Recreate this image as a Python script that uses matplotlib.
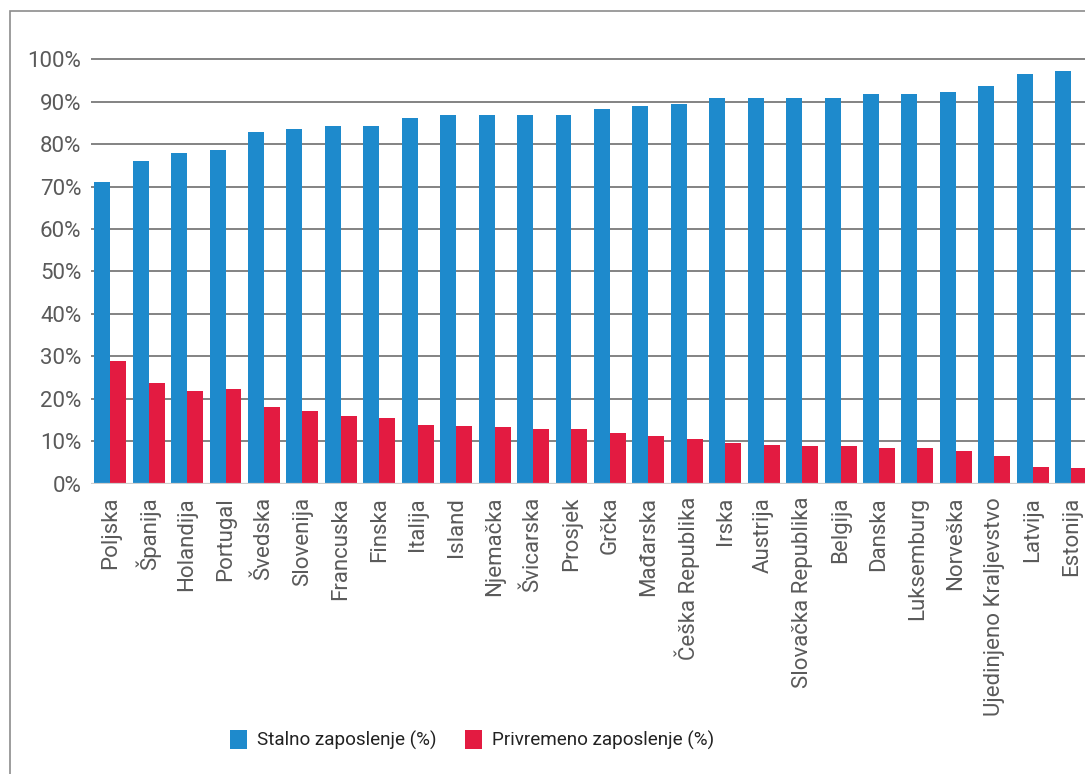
import matplotlib
matplotlib.use("Agg")
import matplotlib.pyplot as plt
from matplotlib.patches import Rectangle, Patch
import numpy as np

countries = ["Poljska", "Španija", "Holandija", "Portugal", "Švedska", "Slovenija",
             "Francuska", "Finska", "Italija", "Island", "Njemačka", "Švicarska",
             "Prosjek", "Grčka", "Mađarska", "Češka Republika", "Irska", "Austrija",
             "Slovačka Republika", "Belgija", "Danska", "Luksemburg", "Norveška",
             "Ujedinjeno Kraljevstvo", "Latvija", "Estonija"]
permanent = [71.1, 76.0, 77.9, 78.6, 82.8, 83.5, 84.2, 84.2, 86.2, 86.9, 86.9, 86.9,
             86.9, 88.3, 89.0, 89.4, 90.9, 90.9, 90.9, 90.9, 91.8, 91.8, 92.3, 93.7,
             96.5, 97.2]
temporary = [28.9, 23.7, 21.8, 22.3, 18.1, 17.1, 16.0, 15.5, 13.8, 13.6, 13.4, 12.9,
             12.9, 11.9, 11.2, 10.5, 9.6, 9.1, 8.9, 8.9, 8.5, 8.5, 7.7, 6.5, 3.9, 3.7]
yticks = list(range(0, 101, 10))
series_names = ["Stalno zaposlenje (%)", "Privremeno zaposlenje (%)"]

BLUE = "#1e8acc"
RED = "#e31b41"
W, H = 1085, 774

plt.rcParams["font.family"] = ["Roboto", "DejaVu Sans"]
fig = plt.figure(figsize=(W / 100, H / 100), dpi=100)

# axes geometry in pixels
left_px, right_px = 91, 1090.4
zero_px, px_per_pct = 483.7, 4.244
ymax = 105
ax = fig.add_axes([left_px / W, (H - zero_px) / H,
                   (right_px - left_px) / W, ymax * px_per_pct / H])

x = np.arange(len(countries))
bw = 0.415
ax.bar(x - bw / 2, permanent, width=bw, color=BLUE, zorder=3, label=series_names[0])
ax.bar(x + bw / 2, temporary, width=bw, color=RED, zorder=3, label=series_names[1])

ax.set_xlim(-0.5, len(countries) - 0.5)
ax.set_ylim(0, ymax)

for t in yticks[1:]:
    ax.axhline(t, color="#7a7a7a", lw=1.3, zorder=1)
ax.axhline(0, color="#cfcfcf", lw=1.6, zorder=4)

for s in ax.spines.values():
    s.set_visible(False)

ax.set_yticks(yticks)
ax.set_yticklabels([f"{t}%" for t in yticks])
ax.set_xticks(x)
ax.set_xticklabels(countries, rotation=90, va="top", ha="center")
ax.tick_params(axis="y", length=0, pad=7, labelsize=16, labelcolor="#5a5a5a")
ax.tick_params(axis="x", length=0, pad=9.5, labelsize=16, labelcolor="#5a5a5a")

handles = [Patch(facecolor=BLUE, edgecolor="none"), Patch(facecolor=RED, edgecolor="none")]
fig.legend(handles, series_names, loc="center", bbox_to_anchor=(0.435, 0.044),
           ncol=2, frameon=False, fontsize=13.6, labelcolor="#222222",
           handlelength=0.9, handleheight=1.16, handletextpad=0.53,
           columnspacing=1.53, borderpad=0)

# outer frame
fig.patches.append(Rectangle((10 / W, -0.05), 1.1, (H - 11) / H + 0.05,
                             transform=fig.transFigure, fill=False,
                             edgecolor="#8c8c8c", lw=1.2))

fig.savefig("out.png", dpi=100)
